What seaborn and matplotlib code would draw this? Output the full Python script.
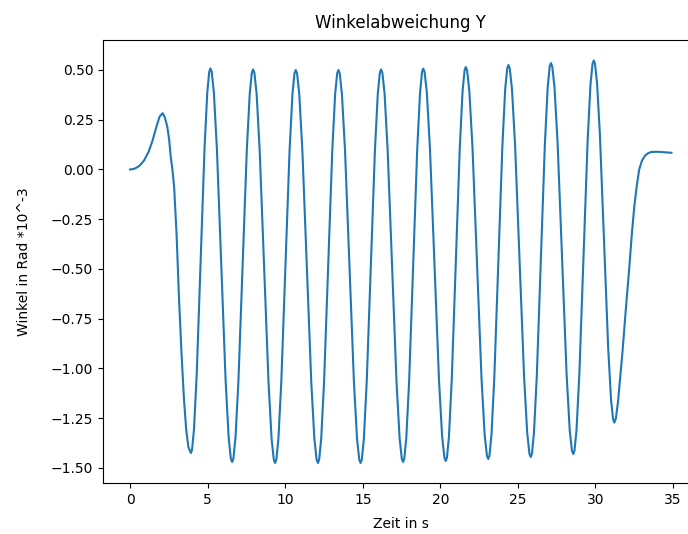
import pandas as pd
import matplotlib
matplotlib.use("Agg")
import matplotlib.pyplot as plt
import seaborn as sns

# Zeit in s
zeit = [
    0.0, 0.3, 0.6, 0.9, 1.2, 1.45, 1.7, 1.9,
    2.10, 2.25, 2.4, 2.52, 2.62, 2.73, 2.84, 3.0, 3.16, 3.32, 3.48, 3.62, 3.76,
    3.92, 3.996, 4.122, 4.298, 4.55, 4.802, 4.978, 5.104,
    5.18, 5.264, 5.404, 5.60, 5.88, 6.16, 6.356, 6.496,
    6.58, 6.661, 6.796, 6.985, 7.255, 7.525, 7.714, 7.849,
    7.93, 8.015, 8.157, 8.356, 8.64, 8.924, 9.123, 9.265,
    9.35, 9.430, 9.563, 9.749, 10.015, 10.281, 10.467, 10.600,
    10.68, 10.766, 10.909, 11.109, 11.395, 11.681, 11.881, 12.024,
    12.11, 12.189, 12.321, 12.506, 12.77, 13.034, 13.219, 13.351,
    13.43, 13.516, 13.659, 13.859, 14.145, 14.431, 14.631, 14.774,
    14.86, 14.939, 15.071, 15.256, 15.52, 15.784, 15.969, 16.101,
    16.18, 16.265, 16.407, 16.606, 16.89, 17.174, 17.373, 17.515,
    17.60, 17.678, 17.808, 17.99, 18.25, 18.51, 18.692, 18.822,
    18.90, 18.987, 19.132, 19.335, 19.625, 19.915, 20.118, 20.263,
    20.35, 20.427, 20.556, 20.737, 20.995, 21.253, 21.434, 21.563,
    21.64, 21.727, 21.872, 22.075, 22.365, 22.655, 22.858, 23.003,
    23.09, 23.168, 23.298, 23.48, 23.74, 24.0, 24.182, 24.312,
    24.39, 24.476, 24.620, 24.822, 25.11, 25.398, 25.600, 25.744,
    25.83, 25.908, 26.038, 26.22, 26.48, 26.74, 26.922, 27.052,
    27.13, 27.216, 27.360, 27.562, 27.85, 28.138, 28.340, 28.484,
    28.57, 28.649, 28.781, 28.966, 29.23, 29.494, 29.679, 29.811,
    29.89, 29.970, 30.103, 30.289, 30.555, 30.821, 31.007, 31.140,
    31.22, 31.32, 31.45, 31.6, 31.74, 31.95, 32.17, 32.35, 32.5, 32.65,
    32.82, 33.0, 33.2, 33.4, 33.6, 34.0, 34.5, 34.9,
]

# Winkel in Rad *10^-3
winkel = [
    0.0, 0.004, 0.018, 0.045, 0.09, 0.145, 0.215, 0.265,
    0.283, 0.26, 0.215, 0.15, 0.064, 0.0, -0.086, -0.33, -0.656, -0.93, -1.16, -1.31, -1.395,
    -1.425, -1.408, -1.305, -1.027, -0.459, 0.110, 0.388, 0.491,
    0.508, 0.491, 0.386, 0.100, -0.481, -1.062, -1.348, -1.453,
    -1.470, -1.453, -1.348, -1.063, -0.484, 0.096, 0.381, 0.486,
    0.503, 0.486, 0.381, 0.095, -0.486, -1.067, -1.353, -1.458,
    -1.475, -1.458, -1.353, -1.068, -0.488, 0.093, 0.378, 0.483,
    0.500, 0.483, 0.378, 0.093, -0.488, -1.068, -1.353, -1.458,
    -1.475, -1.458, -1.353, -1.068, -0.488, 0.093, 0.378, 0.483,
    0.500, 0.483, 0.378, 0.093, -0.488, -1.068, -1.353, -1.458,
    -1.475, -1.458, -1.353, -1.067, -0.486, 0.095, 0.381, 0.486,
    0.503, 0.486, 0.381, 0.096, -0.484, -1.063, -1.348, -1.453,
    -1.470, -1.453, -1.348, -1.063, -0.482, 0.100, 0.385, 0.490,
    0.507, 0.490, 0.385, 0.101, -0.479, -1.059, -1.343, -1.448,
    -1.465, -1.448, -1.343, -1.057, -0.475, 0.107, 0.393, 0.498,
    0.515, 0.498, 0.393, 0.109, -0.470, -1.049, -1.333, -1.438,
    -1.455, -1.438, -1.333, -1.047, -0.465, 0.117, 0.403, 0.508,
    0.525, 0.508, 0.403, 0.119, -0.460, -1.039, -1.323, -1.428,
    -1.445, -1.427, -1.322, -1.037, -0.455, 0.127, 0.413, 0.518,
    0.535, 0.518, 0.414, 0.130, -0.448, -1.025, -1.309, -1.413,
    -1.430, -1.413, -1.308, -1.022, -0.441, 0.140, 0.426, 0.531,
    0.548, 0.532, 0.435, 0.173, -0.362, -0.897, -1.159, -1.256,
    -1.272, -1.25, -1.17, -1.04, -0.92, -0.71, -0.505, -0.32, -0.19, -0.09,
    0.0, 0.045, 0.07, 0.082, 0.088, 0.089, 0.086, 0.084,
]

df = pd.DataFrame({"Zeit": zeit, "Winkel": winkel})

fig, ax = plt.subplots(figsize=(6.88, 5.34), dpi=100)
# Bild ist rechts beschnitten, daher reicht die Achse ueber den Rand hinaus
fig.subplots_adjust(left=0.1497, right=1.0153, top=0.9245, bottom=0.0953)

sns.lineplot(data=df, x="Zeit", y="Winkel", ax=ax, sort=False, color="#1f77b4", linewidth=1.5)

ax.set_title("Winkelabweichung Y", pad=9)
ax.set_xlabel("Zeit in s", labelpad=7)
ax.set_ylabel("Winkel in Rad *10^-3", labelpad=14)
ax.set_xticks([0, 5, 10, 15, 20, 25, 30, 35])
ax.set_yticks([-1.5, -1.25, -1.0, -0.75, -0.5, -0.25, 0.0, 0.25, 0.5])

plt.savefig("out.png", dpi=100)
